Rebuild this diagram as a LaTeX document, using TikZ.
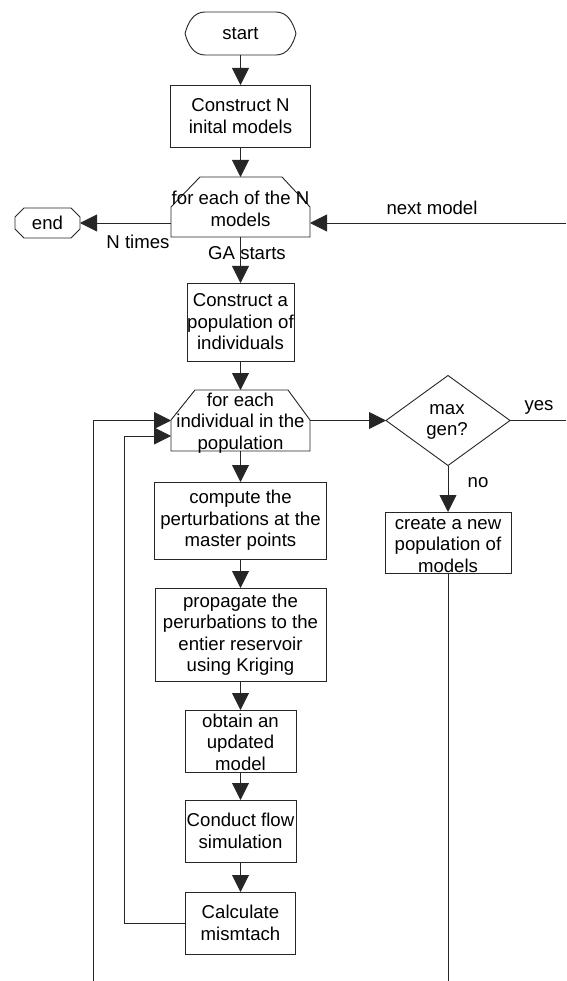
\documentclass[tikz,border=0pt]{standalone}
\usepackage{fontspec}
\setmainfont{Liberation Sans}
\usetikzlibrary{arrows.meta,shapes.geometric,calc}
\begin{document}
\begin{tikzpicture}[x=1pt,y=-1pt,
  line/.style={draw=black!85, line width=0.9pt},
  arr/.style={line, -{Triangle[length=17pt,width=17pt]}},
  frame/.style={inner sep=0pt, outer sep=0pt},
  boxn/.style={frame, draw=black!85, line width=0.9pt},
  txt/.style={align=center, inner sep=0pt, font=\fontsize{18.6}{21.5}\selectfont}
]
\useasboundingbox[fill=white] (0,0) rectangle (566,981);

% terminals
\node[frame, minimum width=111pt, minimum height=43pt] (st) at (240.5,33.5) {};
\draw[line] (st.west) to[out=75,in=180] ([xshift=20pt]st.north west) -- ([xshift=-20pt]st.north east)
  to[out=0,in=105] (st.east) to[out=-105,in=0] ([xshift=-20pt]st.south east)
  -- ([xshift=20pt]st.south west) to[out=180,in=-75] (st.west);
\node[txt] (stt) at (st) {start};

\node[frame, minimum width=65pt, minimum height=30pt] (en) at (47.5,223) {};
\draw[line] (en.west) -- ([yshift=6pt]en.west) -- ([xshift=9pt]en.north west) -- ([xshift=-9pt]en.north east)
  -- ([yshift=6pt]en.east) -- ([yshift=-6pt]en.east) -- ([xshift=-9pt]en.south east)
  -- ([xshift=9pt]en.south west) -- ([yshift=-6pt]en.west) -- cycle;
\node[txt] (ent) at (en) {end};

% boxes
\node[boxn, minimum width=140pt, minimum height=62pt] (b1) at (240.5,116) {};
\node[txt] (b1t) at (b1) {Construct N\\inital models};

\node[frame, minimum width=139pt, minimum height=60pt] (h1) at (240.5,207) {};
\draw[line] (h1.south west) -- ([yshift=-30pt]h1.north west) -- ([xshift=29pt]h1.north west)
  -- ([xshift=-28pt]h1.north east) -- ([yshift=-30pt]h1.north east) -- (h1.south east) -- cycle;
\node[txt] (h1t) at (240.5,209) {for each of the N\\models};

\node[boxn, minimum width=107pt, minimum height=78pt] (b2) at (240.5,322) {};
\node[txt] (b2t) at (b2) {Construct a\\population of\\individuals};

\node[frame, minimum width=139pt, minimum height=61pt] (h2) at (240.5,420.5) {};
\draw[line] (h2.south west) -- ([yshift=-30pt]h2.north west) -- ([xshift=24pt]h2.north west)
  -- ([xshift=-22pt]h2.north east) -- ([yshift=-30pt]h2.north east) -- (h2.south east) -- cycle;
\node[txt] (h2t) at (240.5,423) {for each\\individual in the\\population};

\node[boxn, minimum width=172pt, minimum height=77pt] (b3) at (240.5,520.5) {};
\node[txt] (b3t) at (b3) {compute the\\perturbations at the\\master points};

\node[boxn, minimum width=171pt, minimum height=93pt] (b4) at (240.5,634.5) {};
\node[txt] (b4t) at (b4) {propagate the\\perurbations to the\\entier reservoir\\using Kriging};

\node[boxn, minimum width=111pt, minimum height=62pt] (b5) at (240.5,741) {};
\node[txt] (b5t) at (240.5,742) {obtain an\\updated\\model};

\node[boxn, minimum width=111pt, minimum height=62pt] (b6) at (240.5,831) {};
\node[txt] (b6t) at (b6) {Conduct flow\\simulation};

\node[boxn, minimum width=110pt, minimum height=62pt] (b7) at (240.5,923) {};
\node[txt] (b7t) at (b7) {Calculate\\mismtach};

% decision and right branch
\node[frame, shape=diamond, draw=black!85, line width=0.9pt, minimum width=124pt, minimum height=90pt] (d) at (448,420.5) {};
\node[txt] (dt) at (447,422) {max\\gen?};

\node[boxn, minimum width=126pt, minimum height=61pt] (cr) at (448,542.5) {};
\node[txt] (crt) at (448,545) {create a new\\population of\\models};

% labels
\node[txt] (lnt) at (138,242) {N times};
\node[txt] (lga) at (247,253) {GA starts};
\node[txt] (lnm) at (432,208) {next model};
\node[txt] (lyes) at (539,407) {yes};
\node[txt] (lno) at (478,483) {no};

% free ends
\coordinate (nm) at (566,223);
\coordinate (ye) at (566,420.5);
\coordinate (crend) at (448,981);
\coordinate (ob) at (93,981);
\coordinate (ot) at (93,420.5);
\coordinate (lp) at (124,436);

% connectors
\draw[arr] (st.south) -- (b1.north);
\draw[arr] (b1.south) -- (h1.north);
\draw[arr] (en -| h1.west) -- (en.east);
\draw[arr] (nm) -- (nm -| h1.east);
\draw[arr] (h1.south) -- (b2.north);
\draw[arr] (b2.south) -- (h2.north);
\draw[arr] (h2.east) -- (d.west);
\draw[line] (d.east) -- (ye);
\draw[arr] (d.south) -- (cr.north);
\draw[line] (cr.south) -- (crend);
\draw[arr] (h2.south) -- (b3.north);
\draw[arr] (b3.south) -- (b4.north);
\draw[arr] (b4.south) -- (b5.north);
\draw[arr] (b5.south) -- (b6.north);
\draw[arr] (b6.south) -- (b7.north);
\draw[arr] (b7.west) -| (lp) -- (lp -| h2.west);
\draw[arr] (ob) -- (ot) -- (ot -| h2.west);
\end{tikzpicture}
\end{document}
